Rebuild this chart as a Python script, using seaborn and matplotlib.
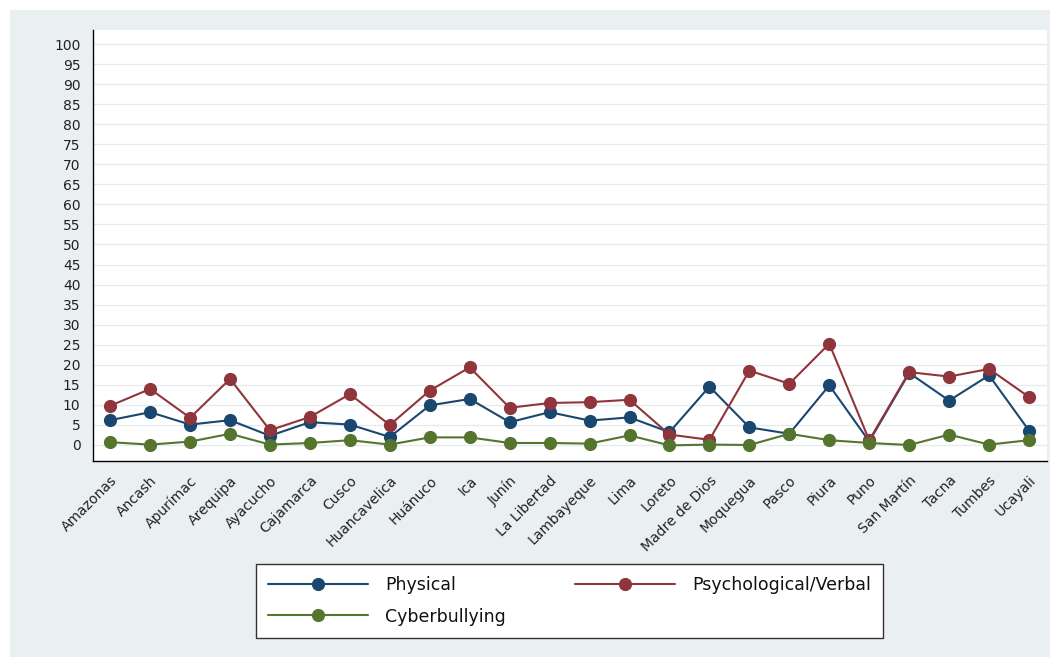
import matplotlib
matplotlib.use("Agg")
import matplotlib.pyplot as plt
import seaborn as sns
import pandas as pd
from matplotlib.patches import Rectangle
from matplotlib.lines import Line2D

regions = ["Amazonas", "Ancash", "Apurímac", "Arequipa", "Ayacucho", "Cajamarca",
           "Cusco", "Huancavelica", "Huánuco", "Ica", "Junín", "La Libertad",
           "Lambayeque", "Lima", "Loreto", "Madre de Dios", "Moquegua", "Pasco",
           "Piura", "Puno", "San Martín", "Tacna", "Tumbes", "Ucayali"]
physical = [6.1, 8.1, 5.0, 6.1, 2.2, 5.6, 5.0, 1.9, 9.8, 11.4, 5.6, 8.1,
            6.0, 6.8, 3.1, 14.5, 4.3, 2.7, 14.8, 0.8, 17.9, 11.0, 17.3, 3.5]
psychological = [9.7, 13.9, 6.7, 16.4, 3.6, 6.9, 12.6, 4.9, 13.5, 19.3, 9.2, 10.4,
                 10.6, 11.2, 2.5, 1.2, 18.5, 15.2, 25.2, 1.1, 18.1, 17.0, 18.9, 11.9]
cyber = [0.6, 0.0, 0.75, 2.7, 0.0, 0.4, 1.1, 0.0, 1.8, 1.8, 0.4, 0.4,
         0.25, 2.3, -0.2, 0.0, -0.1, 2.7, 1.1, 0.4, -0.1, 2.5, 0.0, 1.1]
series_names = ["Physical", "Psychological/Verbal", "Cyberbullying"]
yticks = list(range(0, 101, 5))

df = pd.DataFrame({"Region": regions, "Physical": physical,
                   "Psychological/Verbal": psychological, "Cyberbullying": cyber})
long = df.melt(id_vars="Region", var_name="Type", value_name="Value")
long["x"] = long["Region"].map({r: i for i, r in enumerate(regions)})

sns.set_style("white")
plt.rcParams["font.family"] = ["DejaVu Sans"]

palette = {"Physical": "#1a476f", "Psychological/Verbal": "#90353b", "Cyberbullying": "#55752f"}

W, H = 1060, 666
fig = plt.figure(figsize=(W / 100, H / 100), dpi=100)
fig.patch.set_facecolor("white")
bg = Rectangle((10 / W, 1 - 657 / H), 1040 / W, 647 / H,
               transform=fig.transFigure, facecolor="#eaeff2",
               edgecolor="none", zorder=-10)
fig.add_artist(bg)
ax = fig.add_axes([93 / W, 1 - 461 / H, (1047 - 93) / W, (461 - 30) / H])
ax.set_zorder(1)
ax.set_facecolor("white")

sns.lineplot(data=long, x="x", y="Value", hue="Type", hue_order=series_names,
             palette=palette, marker="o", markersize=9.5, linewidth=1.5,
             markeredgewidth=0, ax=ax, legend=False)

ax.set_xlim(-0.43, 23.45)
ax.set_ylim(-4.1, 103.6)
ax.set_yticks(yticks)
ax.set_yticklabels([str(v) for v in yticks], fontsize=10, color="#222222")
ax.set_xticks(range(len(regions)))
ax.set_xticklabels(regions, rotation=45, ha="right", rotation_mode="anchor",
                   fontsize=10, color="#222222")
ax.set_xlabel("")
ax.set_ylabel("")
ax.grid(axis="y", color="#e7ebee", linewidth=1.0)
ax.set_axisbelow(True)
for s in ["top", "right"]:
    ax.spines[s].set_visible(False)
for s in ["left", "bottom"]:
    ax.spines[s].set_color("black")
    ax.spines[s].set_linewidth(1.0)
ax.tick_params(axis="both", direction="out", length=6, width=1, color="black", pad=3)

handles = [Line2D([], [], color=palette[n], marker="o", markersize=9.5, linewidth=1.5,
                  markeredgewidth=0) for n in series_names]
order = [0, 2, 1]
leg = fig.legend([handles[i] for i in order], [series_names[i] for i in order],
                 loc="center", bbox_to_anchor=(569.5 / W, 1 - 601 / H), ncol=2,
                 fontsize=12.5, frameon=True, fancybox=False, framealpha=1,
                 handlelength=5.75, columnspacing=4.0, handletextpad=1.0,
                 borderpad=0.7, labelspacing=0.75, borderaxespad=0)
leg.get_frame().set_edgecolor("#333333")
leg.get_frame().set_linewidth(1.0)
leg.get_frame().set_facecolor("white")
for t in leg.get_texts():
    t.set_color("#111111")

fig.savefig("out.png", dpi=100)
